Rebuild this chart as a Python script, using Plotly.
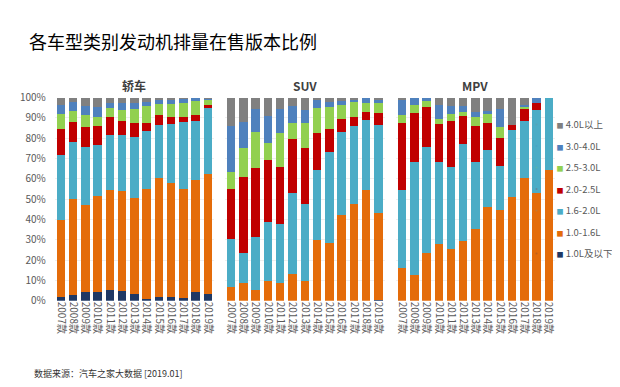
import plotly.graph_objects as go

YEARS = ["2007款", "2008款", "2009款", "2010款", "2011款", "2012款", "2013款",
         "2014款", "2015款", "2016款", "2017款", "2018款", "2019款"]
SERIES = ["1.0L及以下", "1.0-1.6L", "1.6-2.0L", "2.0-2.5L", "2.5-3.0L", "3.0-4.0L", "4.0L以上"]
COLORS = ["#1F3864", "#E46C0A", "#4BACC6", "#C00000", "#92D050", "#4F81BD", "#808080"]
PANEL_TITLES = ["轿车", "SUV", "MPV"]
Y_TICKS = [0, 10, 20, 30, 40, 50, 60, 70, 80, 90, 100]
Y_TICK_TEXT = ["0%", "10%", "20%", "30%", "40%", "50%", "60%", "70%", "80%", "90%", "100%"]

# 轿车 (sedan) shares, %
SEDAN_LE10 = [2.0, 2.8, 4.1, 4.1, 5.2, 4.9, 3.1, 0.9, 1.9, 1.9, 1.6, 4.4, 3.1]
SEDAN_10_16 = [37.8, 47.2, 43.1, 47.5, 49.5, 49.3, 47.7, 54.1, 58.3, 56.0, 53.4, 55.0, 59.5]
SEDAN_16_20 = [31.9, 28.0, 28.3, 25.1, 26.8, 27.6, 29.9, 28.3, 26.4, 29.0, 33.2, 29.1, 32.2]
SEDAN_20_25 = [12.9, 10.0, 9.9, 9.1, 8.9, 6.7, 7.0, 4.4, 4.7, 3.5, 2.4, 2.8, 1.6]
SEDAN_25_30 = [7.1, 5.4, 5.8, 4.8, 4.4, 5.5, 6.8, 8.2, 5.4, 6.3, 6.9, 7.1, 3.1]
SEDAN_30_40 = [4.7, 4.4, 4.4, 4.7, 2.4, 3.2, 3.0, 2.1, 2.8, 2.8, 2.2, 1.6, 0.3]
SEDAN_GT40 = [3.6, 2.2, 4.4, 4.7, 2.8, 2.8, 2.5, 2.0, 0.5, 0.5, 0.3, 0.0, 0.2]

# SUV shares, %
SUV_LE10 = [0, 0, 0, 0, 0, 0, 0, 0, 0, 0, 0, 0, 0.6]
SUV_10_16 = [6.8, 8.6, 5.2, 9.9, 8.6, 13.0, 9.9, 29.9, 28.4, 42.1, 47.6, 54.7, 42.8]
SUV_16_20 = [23.5, 15.1, 26.2, 28.8, 29.1, 40.1, 37.7, 34.3, 44.9, 40.9, 38.2, 34.3, 43.2]
SUV_20_25 = [24.9, 37.0, 33.8, 30.5, 28.0, 26.5, 27.6, 18.5, 11.3, 6.6, 4.8, 3.8, 5.9]
SUV_25_30 = [8.2, 14.5, 17.8, 8.3, 16.8, 8.1, 12.5, 12.1, 10.7, 6.8, 7.4, 4.7, 5.5]
SUV_30_40 = [22.4, 12.9, 11.3, 13.4, 12.0, 8.2, 6.3, 3.9, 2.7, 2.0, 1.5, 2.5, 0.7]
SUV_GT40 = [14.2, 11.9, 5.7, 9.1, 5.5, 4.1, 6.0, 1.3, 2.0, 1.6, 0.5, 0.0, 1.3]

# MPV shares, %
MPV_LE10 = [0, 0, 0, 0, 0, 0, 0, 0, 0, 0, 0, 0, 0]
MPV_10_16 = [16.2, 12.7, 23.7, 28.0, 25.3, 29.2, 35.1, 46.1, 44.5, 51.3, 60.2, 52.8, 64.2]
MPV_16_20 = [38.2, 55.8, 51.8, 40.5, 40.7, 47.8, 33.4, 28.0, 21.7, 32.8, 28.3, 41.2, 35.8]
MPV_20_25 = [33.3, 24.0, 19.8, 18.4, 22.5, 13.9, 17.7, 13.6, 13.7, 2.5, 6.3, 3.5, 0]
MPV_25_30 = [3.5, 3.6, 3.1, 2.4, 3.6, 1.9, 4.4, 4.0, 5.8, 0, 0.8, 0, 0]
MPV_30_40 = [8.3, 3.9, 1.6, 7.1, 3.8, 3.1, 2.2, 1.6, 8.6, 0, 0.8, 2.5, 0]
MPV_GT40 = [0.5, 0, 0, 3.6, 4.1, 4.1, 7.2, 6.7, 5.7, 13.4, 3.6, 0, 0]

PANELS = [
    [SEDAN_LE10, SEDAN_10_16, SEDAN_16_20, SEDAN_20_25, SEDAN_25_30, SEDAN_30_40, SEDAN_GT40],
    [SUV_LE10, SUV_10_16, SUV_16_20, SUV_20_25, SUV_25_30, SUV_30_40, SUV_GT40],
    [MPV_LE10, MPV_10_16, MPV_16_20, MPV_20_25, MPV_25_30, MPV_30_40, MPV_GT40],
]

W, H = 620, 387
FONT = "Noto Sans CJK SC, Microsoft YaHei, sans-serif"
X_DOMAINS = [[47 / W, 207 / W], [218 / W, 378.5 / W], [390 / W, 549.5 / W]]
Y_DOMAIN = [(H - 296) / H, (H - 84) / H]

fig = go.Figure()

for p, panel in enumerate(PANELS):
    ax = "" if p == 0 else str(p + 1)
    for s, vals in enumerate(panel):
        fig.add_trace(go.Bar(
            x=YEARS, y=vals, name=SERIES[s], marker_color=COLORS[s],
            marker_line_width=0, xaxis="x" + ax, yaxis="y" + ax,
            showlegend=False, hovertemplate="%{x} " + SERIES[s] + ": %{y}%<extra></extra>",
        ))

# legend entries, listed from the largest displacement down
for s in reversed(range(len(SERIES))):
    fig.add_trace(go.Scatter(
        x=[None], y=[None], mode="markers",
        marker=dict(size=1, opacity=0, color=COLORS[s]),
        name=f"<span style='color:{COLORS[s]};font-size:7px'>■</span> {SERIES[s]}",
        legendgroup=SERIES[s], showlegend=True, hoverinfo="skip",
    ))

layout = dict(
    width=W, height=H,
    margin=dict(l=0, r=0, t=0, b=0),
    paper_bgcolor="white", plot_bgcolor="white",
    barmode="stack", bargap=0.31,
    font=dict(family=FONT, color="#595959", size=10),
    showlegend=True,
    legend=dict(
        x=511 / W, xanchor="left", y=1 - 97 / H, yanchor="top",
        traceorder="grouped", tracegroupgap=2.5,
        font=dict(size=9.5, color="#595959", family=FONT),
        bgcolor="rgba(0,0,0,0)", borderwidth=0,
    ),
)
for p in range(3):
    ax = "" if p == 0 else str(p + 1)
    layout["xaxis" + ax] = dict(
        domain=X_DOMAINS[p], anchor="y" + ax, type="category",
        tickangle=90, tickfont=dict(size=10, color="#595959"),
        showline=False, showgrid=False, ticks="", fixedrange=True,
    )
    layout["yaxis" + ax] = dict(
        domain=Y_DOMAIN, anchor="x" + ax, range=[0, 100],
        tickmode="array", tickvals=Y_TICKS, ticktext=Y_TICK_TEXT,
        showticklabels=(p == 0), tickfont=dict(size=10, color="#595959"),
        showgrid=True, gridcolor="#efefef", zeroline=False, showline=False,
        ticks="", ticklabelstandoff=8, fixedrange=True,
    )
fig.update_layout(**layout)

annotations = [
    dict(text="各车型类别发动机排量在售版本比例", x=19 / W, y=1 - 25 / H,
         xref="paper", yref="paper", xanchor="left", yanchor="middle",
         showarrow=False, font=dict(size=18, color="#000000", family=FONT)),
    dict(text="数据来源：汽车之家大数据 [2019.01]", x=24 / W, y=1 - 372 / H,
         xref="paper", yref="paper", xanchor="left", yanchor="middle",
         showarrow=False, font=dict(size=9, color="#333333", family=FONT)),
]
for p, t in enumerate(PANEL_TITLES):
    cx = (X_DOMAINS[p][0] + X_DOMAINS[p][1]) / 2
    annotations.append(dict(
        text=f"<b>{t}</b>", x=cx, y=1 - 71 / H, xref="paper", yref="paper",
        xanchor="center", yanchor="middle", showarrow=False,
        font=dict(size=12, color="#404040", family=FONT)))
fig.update_layout(annotations=annotations)

fig.write_html("out.html")
